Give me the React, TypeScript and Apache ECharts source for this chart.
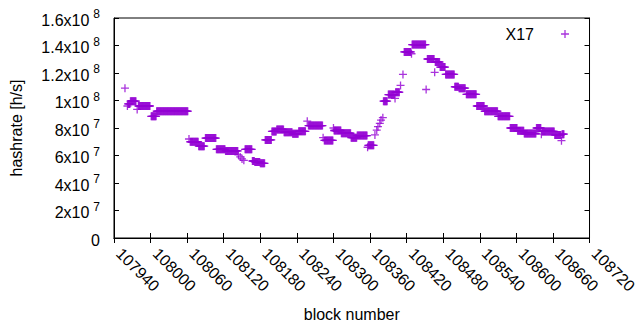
import React, { useEffect, useRef } from 'react';
import * as echarts from 'echarts';

// Runs of consecutive blocks sharing one hashrate estimate (values in 1e6 h/s)
const runStart = [
  107958, 107962, 107963, 107967, 107978, 107980, 108001, 108010,
  108063, 108065, 108079, 108090, 108108, 108123, 108144, 108147, 108150, 108153,
  108155, 108167, 108171, 108180, 108188, 108199, 108207, 108219, 108233, 108243,
  108257, 108259, 108283, 108285, 108300, 108301, 108313, 108329, 108339,
  108356, 108357, 108368, 108371, 108373, 108376, 108378, 108381,
  108382, 108390, 108401, 108402, 108410, 108414,
  108416, 108428, 108429, 108452, 108454, 108466, 108467, 108475, 108484,
  108499, 108506, 108518, 108535, 108548, 108570, 108590, 108602, 108613,
  108633, 108641, 108642, 108663, 108674, 108675,
];
const runEnd = [
  107958, 107962, 107966, 107976, 107978, 107999, 108009, 108061,
  108063, 108078, 108088, 108107, 108122, 108143, 108144, 108147, 108150, 108153,
  108166, 108170, 108179, 108187, 108198, 108206, 108218, 108232, 108242, 108254,
  108257, 108282, 108283, 108299, 108300, 108312, 108328, 108338, 108355,
  108356, 108366, 108368, 108371, 108373, 108376, 108378, 108381,
  108388, 108400, 108401, 108408, 108410, 108414,
  108427, 108428, 108451, 108452, 108465, 108466, 108474, 108483, 108498,
  108505, 108516, 108534, 108547, 108569, 108589, 108601, 108612, 108632,
  108640, 108641, 108662, 108673, 108674, 108678,
];
const runValue = [
  109, 96, 97.5, 99.5, 93.5, 96, 88.5, 92.2,
  72, 70, 66.8, 72.7, 64.5, 63.3, 60.5, 59, 57.5, 56.5,
  64.5, 56, 55.3, 54.3, 71.3, 77.5, 79, 77, 75.8, 77.6,
  85, 81.8, 73, 71, 80, 78.2, 76.2, 73, 74.5,
  66, 67.4, 75, 78.5, 81, 83.4, 85.8, 87.5,
  99.5, 104.3, 101.5, 106, 111, 119,
  135.3, 134, 140.7, 108, 130.2, 120.5, 128, 124.3, 119,
  110, 109, 104.5, 96, 92.2, 88.5, 80, 78, 76,
  80, 75.5, 77.5, 75, 70.8, 75.5,
];

const seriesName = 'X17';
const xMin = 107940;
const xMax = 108720;
const xStep = 60;
const yMin = 0;
const yMax = 1.6e8;
const yStep = 2e7;

const FONT = 'Liberation Sans';
const FS = 16;
const PURPLE = '#9400d3';
const PLUS = 'path://M3.35,0H4.65V3.35H8V4.65H4.65V8H3.35V4.65H0V3.35H3.35Z';

function buildPoints(): [number, number][] {
  const pts: [number, number][] = [];
  for (let i = 0; i < runStart.length; i++) {
    for (let b = runStart[i]; b <= runEnd[i]; b++) {
      pts.push([b, runValue[i] * 1e6]);
    }
  }
  return pts;
}

function yFmt(v: number): string {
  if (v === 0) return '{m|0}';
  const e = Math.floor(Math.log10(v) + 1e-9);
  const m = +(v / Math.pow(10, e)).toFixed(1);
  return `{m|${m}x10}{e|${e}}`;
}

export default function App() {
  const ref = useRef<HTMLDivElement>(null);
  useEffect(() => {
    if (!ref.current) return;
    const chart = echarts.init(ref.current, undefined, { renderer: 'svg' });
    const axisLine = { show: true, lineStyle: { color: '#000', width: 1 } };
    const tick = { show: true, inside: true, length: 5, lineStyle: { color: '#000' } };
    chart.setOption({
      animation: false,
      backgroundColor: '#fff',
      textStyle: { fontFamily: FONT },
      grid: { left: 114, right: 31, top: 18, bottom: 92, show: true, borderColor: '#000', borderWidth: 1 },
      legend: {
        data: [{ name: seriesName, icon: PLUS }],
        right: 66,
        top: 21,
        align: 'right',
        itemWidth: 8,
        itemHeight: 8,
        textStyle: { fontFamily: FONT, fontSize: FS, color: '#000', padding: [0, 22, 0, 0] },
      },
      xAxis: [
        {
          type: 'value', min: xMin, max: xMax, interval: xStep,
          name: 'block number', nameLocation: 'middle', nameGap: 68,
          nameTextStyle: { fontFamily: FONT, fontSize: FS, color: '#000' },
          axisLine, axisTick: tick, splitLine: { show: false },
          axisLabel: {
            rotate: -45, margin: 8, padding: [0, 0, 0, 7], fontFamily: FONT, fontSize: FS, color: '#000',
            showMinLabel: true, showMaxLabel: true, formatter: (v: number) => String(v),
          },
        },
        {
          type: 'value', min: xMin, max: xMax, interval: xStep, position: 'top',
          axisLine, axisTick: tick, splitLine: { show: false }, axisLabel: { show: false },
        },
      ],
      yAxis: [
        {
          type: 'value', min: yMin, max: yMax, interval: yStep,
          name: 'hashrate [h/s]', nameLocation: 'middle', nameGap: 90, nameRotate: 90,
          nameTextStyle: { fontFamily: FONT, fontSize: FS, color: '#000' },
          axisLine, axisTick: tick, splitLine: { show: false },
          axisLabel: {
            margin: 14, color: '#000', formatter: yFmt,
            rich: {
              m: { fontFamily: FONT, fontSize: FS, color: '#000', lineHeight: 20, verticalAlign: 'bottom' },
              e: { fontFamily: FONT, fontSize: 12, color: '#000', lineHeight: 12, verticalAlign: 'top', padding: [0, 0, 0, 4] },
            },
          },
        },
        {
          type: 'value', min: yMin, max: yMax, interval: yStep, position: 'right',
          axisLine, axisTick: tick, splitLine: { show: false }, axisLabel: { show: false },
        },
      ],
      series: [
        {
          name: seriesName,
          type: 'scatter',
          symbol: PLUS,
          symbolSize: 8,
          itemStyle: { color: PURPLE },
          data: buildPoints(),
          xAxisIndex: 0,
          yAxisIndex: 0,
        },
      ],
    });
    return () => chart.dispose();
  }, []);
  return <div ref={ref} style={{ position: 'fixed', left: 0, top: 0, width: 640, height: 330 }} />;
}
